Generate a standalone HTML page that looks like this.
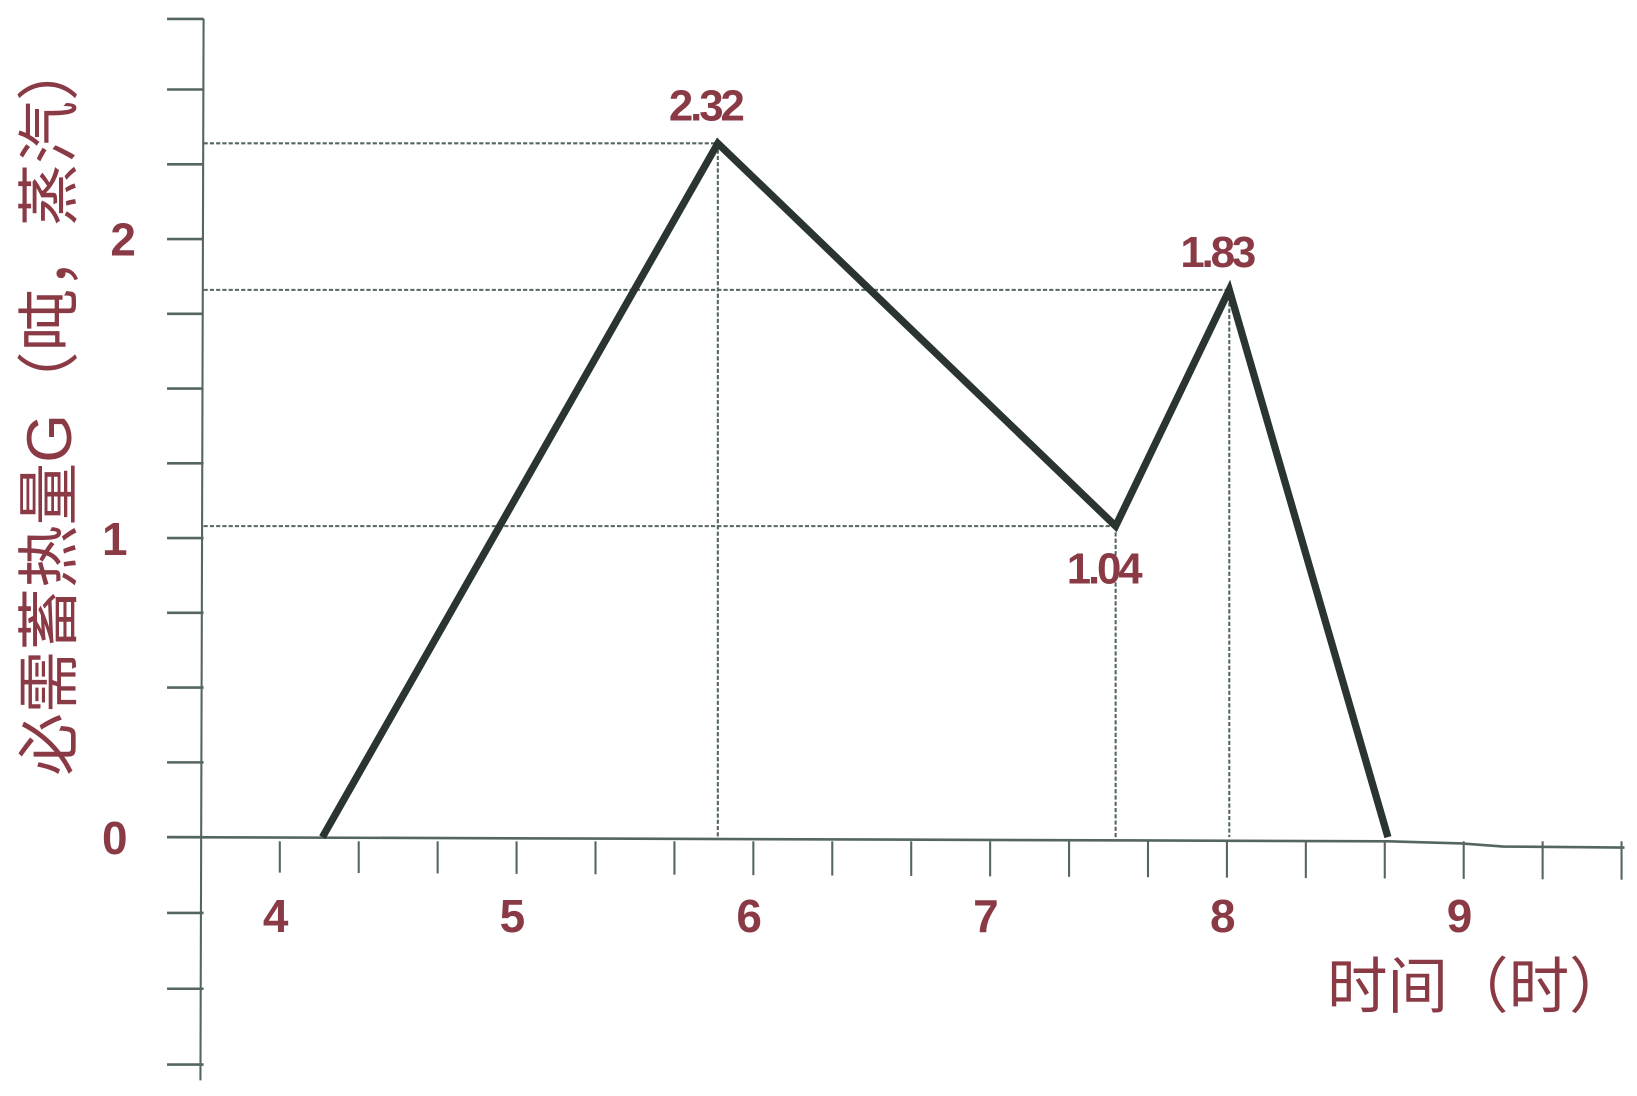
<!DOCTYPE html>
<html><head><meta charset="utf-8"><style>
html,body{margin:0;padding:0;background:#fff;}
svg{display:block;}
text{font-family:"Liberation Sans","Noto Sans CJK SC",sans-serif;}
</style></head><body>
<svg id="chart" width="1637" height="1096" viewBox="0 0 1568 1050" preserveAspectRatio="none" xmlns="http://www.w3.org/2000/svg">
<g id="axes"></g>
<g id="marks"></g>
<text transform="translate(68,390) rotate(-90)" text-anchor="middle" font-size="60" fill="#8a3a45">必需蓄热量G（吨，蒸汽）</text>
<text x="1416" y="965" text-anchor="middle" font-size="58" fill="#8a3a45">时间（时）</text>
</svg>
<script>
const times=[4.18,5.85,7.53,8.01,8.68];
const values=[0,2.32,1.04,1.83,0];
const labelIdx=[1,2,3];
const labelText=["2.32","1.04","1.83"];
const xTicks=[4,5,6,7,8,9];
const yTicks=[0,1,2];
const NS="http://www.w3.org/2000/svg";
const X=t=>268+(t-4)*226.8;
const Y=v=>802-v*286.5;
const ax=document.getElementById('axes'),mk=document.getElementById('marks');
function el(p,tag,a){const e=document.createElementNS(NS,tag);for(const k in a)e.setAttribute(k,a[k]);p.appendChild(e);return e;}
const red="#8a3a45",grey="#556660";
let e=el(ax,'line',{x1:195,y1:18,x2:192,y2:1035,stroke:grey,'stroke-width':2});


e=el(ax,'polyline',{points:"160,802 1330,806 1400,808 1440,811 1556,812",fill:"none",stroke:grey,'stroke-width':2.5});


for(let i=-3;i<=11;i++){const y=Y(i*0.25)+(i===11?4:0)+(i<0?-i*1:0);
 e=el(ax,'line',{x1:160,y1:y,x2:195,y2:y,stroke:grey,'stroke-width':2.5});
 
 }
for(let k=0;k<=17;k++){const x=X(4+k/3);
 e=el(ax,'line',{x1:x,y1:806,x2:x,y2:836+k*0.4,stroke:grey,'stroke-width':2});
 
 }
xTicks.forEach(t=>{e=el(ax,'text',{x:X(t)-4,y:893,'text-anchor':'middle','font-size':44,'font-weight':'bold',fill:red});e.textContent=t;
 
 });
yTicks.forEach(v=>{e=el(ax,'text',{x:v===2?118:110,y:Y(v)+16,'text-anchor':'middle','font-size':44,'font-weight':'bold',fill:red});e.textContent=v;
 
 });
labelIdx.forEach((i,k)=>{const x=X(times[i]),y=Y(values[i]);
 e=el(mk,'line',{x1:195,y1:y,x2:x,y2:y,stroke:grey,'stroke-width':2,'stroke-dasharray':'4 2'});
 
 
 e=el(mk,'line',{x1:x,y1:y,x2:x,y2:802,stroke:grey,'stroke-width':2,'stroke-dasharray':'4 2'});
 
 
 const below=values[i]<values[i-1]&&values[i]<values[i+1];
 e=el(mk,'text',{x:x-12,y:below?y+55:y-22,'text-anchor':'middle','font-size':42,'font-weight':'bold',fill:red,'letter-spacing':-3});
 e.textContent=labelText[k];
 
 });
e=el(mk,'polyline',{points:times.map((t,i)=>X(t)+','+Y(values[i])).join(' '),fill:'none',stroke:'#2a3530','stroke-width':7,'stroke-linejoin':'miter'});


</script>
</body></html>
